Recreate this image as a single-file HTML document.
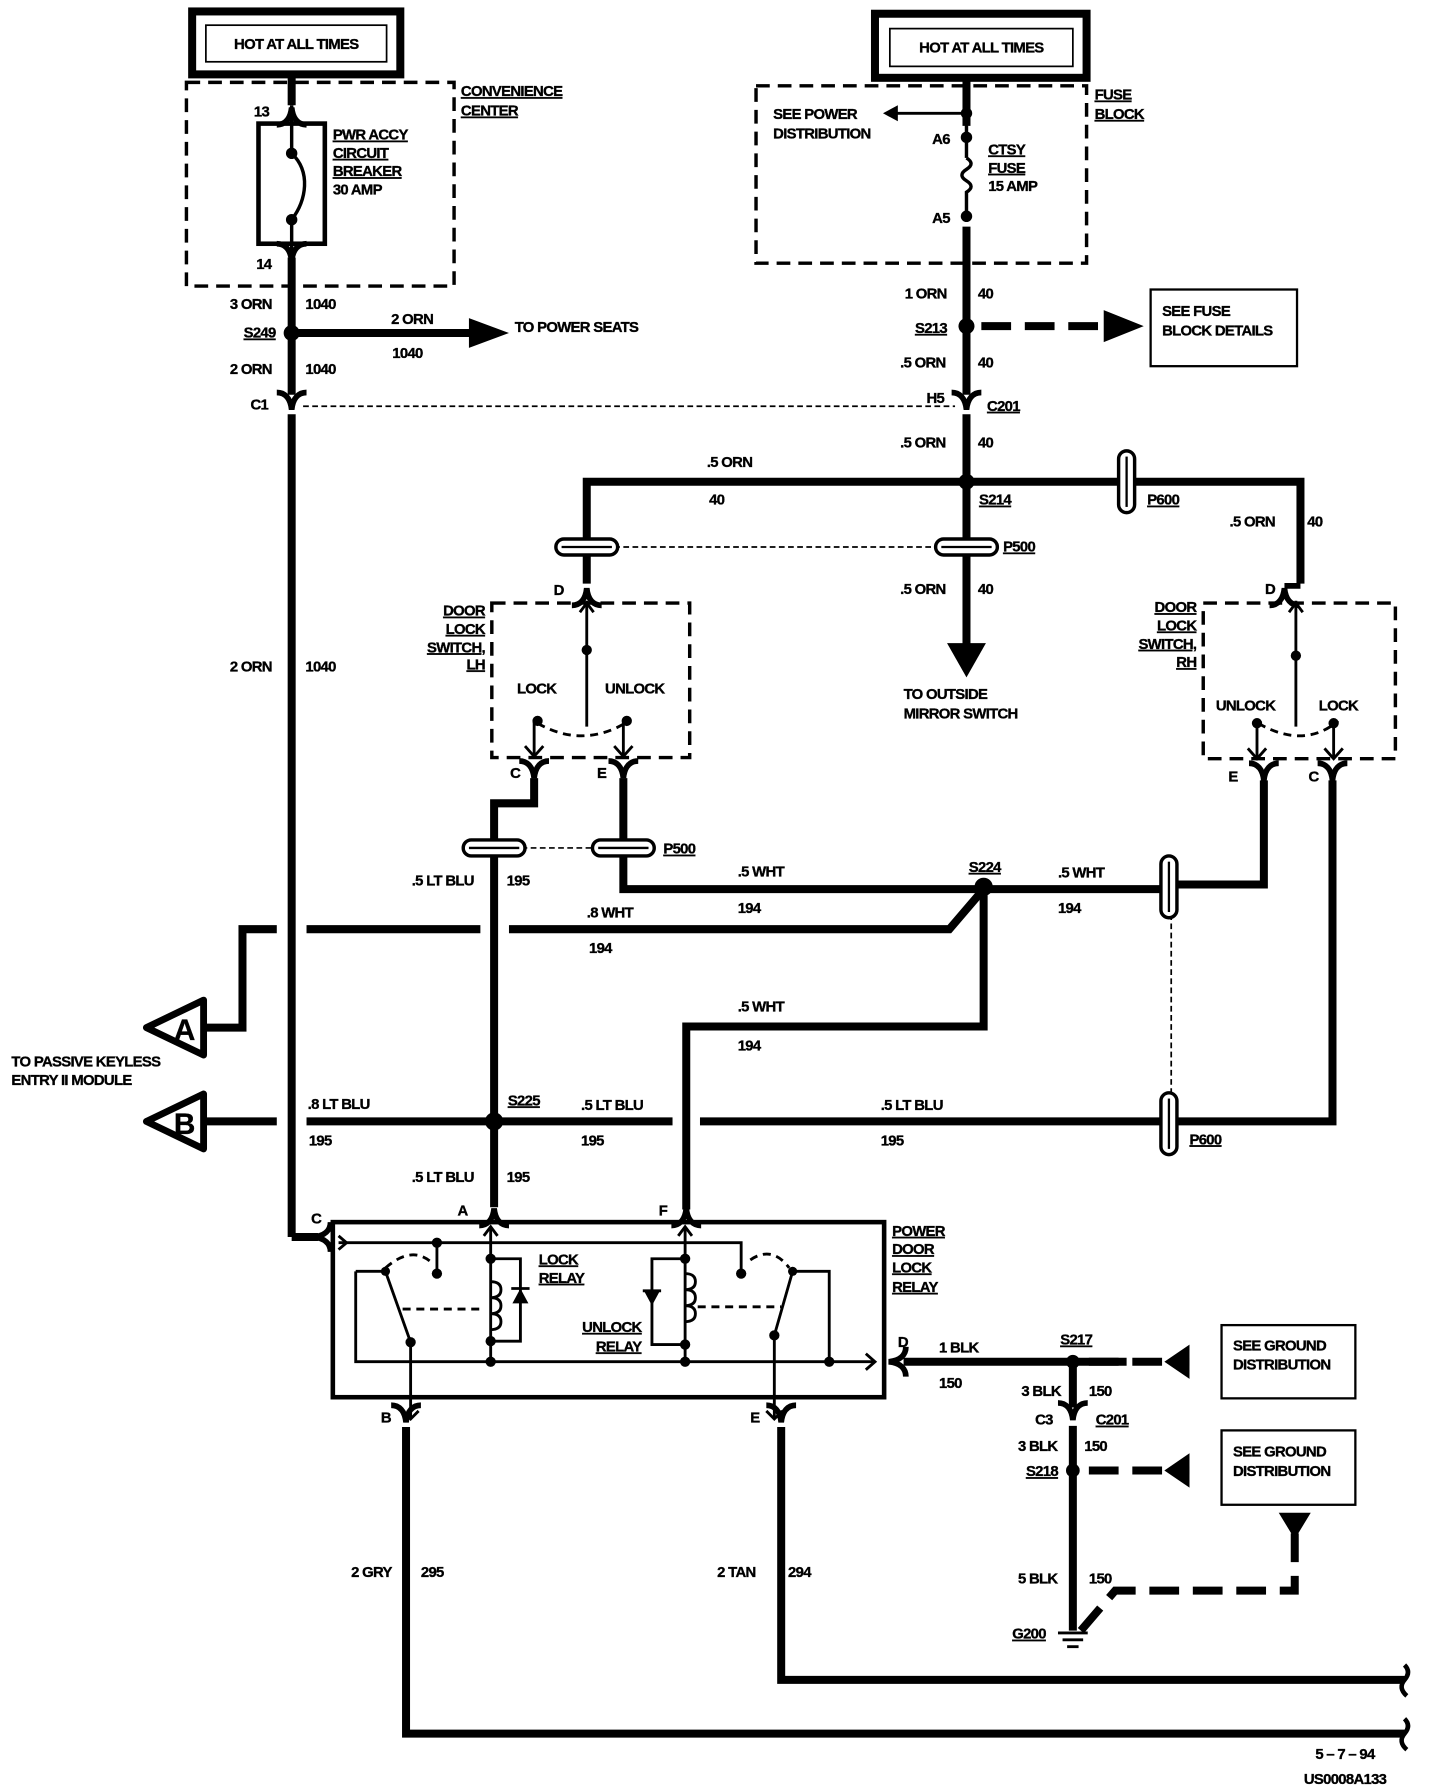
<!DOCTYPE html>
<html><head><meta charset="utf-8"><style>
html,body{margin:0;padding:0;background:#fff;}
svg{display:block}
text{font-family:"Liberation Sans",sans-serif;font-weight:bold;font-size:13px;fill:#000;letter-spacing:-0.6px;stroke:#000;stroke-width:0.3px}
.u{text-decoration:underline}
</style></head><body>
<svg width="1440" height="1792" viewBox="0 0 1259 1566" preserveAspectRatio="none" xmlns="http://www.w3.org/2000/svg">
<defs>
<path id="fk" d="M-13,-9 C-6,-9 -1,-4 0,6 C1,-4 6,-9 13,-9" fill="none" stroke="#000" stroke-width="5"/>
<g id="gv"><rect x="-27" y="-7" width="54" height="14" rx="7" fill="#fff" stroke="#000" stroke-width="3"/><line x1="-22" y1="0" x2="22" y2="0" stroke="#000" stroke-width="2"/></g>
<g id="gh"><rect x="-7" y="-27" width="14" height="54" rx="7" fill="#fff" stroke="#000" stroke-width="3"/><line x1="0" y1="-22" x2="0" y2="22" stroke="#000" stroke-width="2"/></g>
</defs>
<rect width="1259" height="1566" fill="#fff"/>

<rect x="168" y="10" width="182" height="55" fill="none" stroke="#000" stroke-width="7"/>
<rect x="180" y="22" width="158" height="32" fill="#fff" stroke="#000" stroke-width="1.5"/>
<text x="259" y="43" text-anchor="middle">HOT AT ALL TIMES</text>
<rect x="765" y="12" width="185" height="56" fill="none" stroke="#000" stroke-width="7"/>
<rect x="778" y="25" width="160" height="33" fill="#fff" stroke="#000" stroke-width="1.5"/>
<text x="858" y="46" text-anchor="middle">HOT AT ALL TIMES</text>

<g fill="none" stroke="#000" stroke-width="3" stroke-dasharray="12,7">
<rect x="163" y="72" width="234" height="178"/>
<rect x="661" y="75" width="289" height="155"/>
<rect x="430" y="527" width="173" height="135"/>
<rect x="1052" y="527" width="168" height="136"/>
</g>

<g stroke="#000" stroke-width="7" fill="none">
<line x1="255" y1="68" x2="255" y2="92"/>
<line x1="255" y1="225" x2="255" y2="345"/>
<line x1="255" y1="362" x2="255" y2="1081"/>
<line x1="255" y1="1081" x2="278" y2="1081"/>
<line x1="258" y1="291" x2="415" y2="291"/>
<line x1="845" y1="68" x2="845" y2="110"/>
<line x1="845" y1="198" x2="845" y2="345"/>
<line x1="845" y1="362" x2="845" y2="470"/>
<line x1="845" y1="486" x2="845" y2="565"/>
<polyline points="513,510 513,421 1137,421 1137,510"/>
<polyline points="467,680 467,702 432,702 432,733"/>
<line x1="432" y1="748" x2="432" y2="1055"/>
<polyline points="545,680 545,733"/>
<polyline points="545,748 545,777 860,777"/>
<polyline points="860,777 1015,777"/>
<polyline points="1030,773 1105,773 1105,682"/>
<polyline points="860,777 860,897 600,897 600,1057"/>
<polyline points="860,777 830,812 445,812"/>
<line x1="420" y1="812" x2="268" y2="812"/>
<polyline points="242,812 212,812 212,898 175,898"/>
<line x1="175" y1="980" x2="242" y2="980"/>
<line x1="268" y1="980" x2="588" y2="980"/>
<line x1="612" y1="980" x2="1015" y2="980"/>
<polyline points="1030,980 1165,980 1165,682"/>
<polyline points="355,1247 355,1515 1228,1515"/>
<polyline points="683,1247 683,1468 1228,1468"/>
<line x1="790" y1="1190" x2="985" y2="1190"/>
<line x1="938" y1="1190" x2="938" y2="1230"/>
<line x1="938" y1="1246" x2="938" y2="1425"/>
</g>
<polygon points="410,278 445,291 410,304" fill="#000"/>
<polygon points="828,562 862,562 845,592" fill="#000"/>
<polygon points="965,271 1000,285 965,299" fill="#000"/>
<polygon points="785,92 785,106 772,99" fill="#000"/>
<line x1="845" y1="99" x2="782" y2="99" stroke="#000" stroke-width="2.5"/>
<g stroke="#000" stroke-width="7" stroke-dasharray="26,12" fill="none">
<line x1="858" y1="285" x2="965" y2="285"/>
<line x1="952" y1="1190" x2="1040" y2="1190"/>
<line x1="952" y1="1285" x2="1040" y2="1285"/>
<polyline points="945,1425 975,1390 1132,1390 1132,1340"/>
</g>
<polygon points="1040,1175 1040,1205 1018,1190" fill="#000"/>
<polygon points="1040,1270 1040,1300 1018,1285" fill="#000"/>
<polygon points="1118,1322 1146,1322 1132,1345" fill="#000"/>
<g stroke="#000" stroke-width="2.5"><line x1="925" y1="1427" x2="951" y2="1427"/><line x1="929" y1="1433" x2="947" y2="1433"/><line x1="933" y1="1439" x2="943" y2="1439"/></g>

<rect x="226" y="108" width="58" height="105" fill="none" stroke="#000" stroke-width="4"/>
<g stroke="#000" stroke-width="3" fill="none"><line x1="255" y1="92" x2="255" y2="132"/><line x1="255" y1="192" x2="255" y2="225"/><path d="M255,134 C272,150 268,175 255,192"/></g>
<circle cx="255" cy="134" r="5"/><circle cx="255" cy="192" r="5"/>
<use href="#fk" x="255" y="100" transform="rotate(180 255 100)"/>
<use href="#fk" x="255" y="222"/>
<use href="#fk" x="255" y="352"/>
<g stroke="#000" stroke-width="3" fill="none"><line x1="845" y1="92" x2="845" y2="138"/><path d="M845,138 q8,5 0,10 q-8,5 0,10 q8,5 0,10 l0,22"/></g>
<circle cx="845" cy="99" r="5"/><circle cx="845" cy="120" r="5"/><circle cx="845" cy="189" r="5"/>
<use href="#fk" x="845" y="352"/>
<line x1="265" y1="355" x2="835" y2="355" stroke="#000" stroke-width="1.5" stroke-dasharray="5,3"/>
<circle cx="255" cy="291" r="7"/><circle cx="845" cy="285" r="7"/><circle cx="845" cy="421" r="7"/>
<circle cx="860" cy="775" r="8"/><circle cx="432" cy="980" r="8"/><circle cx="938" cy="1190" r="6"/><circle cx="938" cy="1285" r="6"/>

<line x1="513" y1="478" x2="845" y2="478" stroke="#000" stroke-width="1.5" stroke-dasharray="5,3"/>
<use href="#gv" x="513" y="478"/><use href="#gv" x="845" y="478"/>
<use href="#gh" x="985" y="421"/>
<line x1="432" y1="741" x2="545" y2="741" stroke="#000" stroke-width="1.5" stroke-dasharray="5,3"/>
<use href="#gv" x="432" y="741"/><use href="#gv" x="545" y="741"/>
<line x1="1024" y1="775" x2="1024" y2="980" stroke="#000" stroke-width="1.5" stroke-dasharray="5,3"/>
<use href="#gh" x="1022" y="775"/><use href="#gh" x="1022" y="982"/>
<use href="#fk" x="513" y="520" transform="rotate(180 513 520)"/>
<use href="#fk" x="1123" y="520" transform="rotate(180 1123 520)"/>
<polyline points="1137,512 1123,512" stroke="#000" stroke-width="5"/>

<g stroke="#000" stroke-width="2.5" fill="none">
<line x1="513" y1="525" x2="513" y2="635"/><polyline points="507,535 513,527 519,535"/>
<path d="M470,632 Q510,655 550,630" stroke-dasharray="7,5"/>
<line x1="467" y1="630" x2="467" y2="660"/><line x1="545" y1="630" x2="545" y2="660"/>
<polyline points="459,652 467,661 475,652"/><polyline points="537,652 545,661 553,652"/>
<line x1="1133" y1="525" x2="1133" y2="635"/><polyline points="1127,535 1133,527 1139,535"/>
<path d="M1100,632 Q1140,655 1170,630" stroke-dasharray="7,5"/>
<line x1="1099" y1="632" x2="1099" y2="662"/><line x1="1166" y1="632" x2="1166" y2="662"/>
<polyline points="1091,654 1099,663 1107,654"/><polyline points="1158,654 1166,663 1174,654"/>
</g>
<circle cx="513" cy="568" r="4.5"/><circle cx="470" cy="630" r="4.5"/><circle cx="548" cy="630" r="4.5"/>
<circle cx="1133" cy="573" r="4.5"/><circle cx="1099" cy="632" r="4.5"/><circle cx="1166" cy="632" r="4.5"/>
<use href="#fk" x="467" y="674"/><use href="#fk" x="545" y="674"/>
<use href="#fk" x="1105" y="676"/><use href="#fk" x="1165" y="676"/>

<polygon points="128,898 178,874 178,922" fill="#fff" stroke="#000" stroke-width="6" stroke-linejoin="round"/>
<text x="152" y="909" style="font-size:26px">A</text>
<polygon points="128,980 178,956 178,1004" fill="#fff" stroke="#000" stroke-width="6" stroke-linejoin="round"/>
<text x="152" y="991" style="font-size:26px">B</text>

<rect x="291" y="1068" width="482" height="153" fill="none" stroke="#000" stroke-width="4"/>
<use href="#fk" x="432" y="1062" transform="rotate(180 432 1062)"/>
<use href="#fk" x="600" y="1062" transform="rotate(180 600 1062)"/>
<use href="#fk" x="280" y="1081" transform="rotate(90 280 1081)"/>
<use href="#fk" x="355" y="1237"/><use href="#fk" x="683" y="1237"/>
<use href="#fk" x="783" y="1190" transform="rotate(90 783 1190)"/>
<use href="#fk" x="938" y="1235"/>
<g stroke="#000" stroke-width="2.5" fill="none">
<polyline points="296,1086 648,1086 648,1111"/>
<polyline points="296,1080 303,1086 296,1092"/>
<line x1="382" y1="1086" x2="382" y2="1113"/>
<line x1="429" y1="1072" x2="429" y2="1190"/><polyline points="423,1080 429,1072 435,1080"/>
<line x1="599" y1="1072" x2="599" y2="1190"/><polyline points="593,1080 599,1072 605,1080"/>
<polyline points="311,1111 337,1111"/><polyline points="311,1111 311,1190 765,1190"/><polyline points="757,1183 765,1190 757,1197"/>
<line x1="337" y1="1111" x2="359" y2="1173"/><line x1="359" y1="1173" x2="359" y2="1240"/>
<polyline points="352,1233 359,1240 366,1233"/>
<path d="M337,1108 Q360,1088 377,1103" stroke-dasharray="7,5"/>
<line x1="352" y1="1144" x2="420" y2="1144" stroke-dasharray="7,5"/>
<polyline points="429,1100 455,1100 455,1172 429,1172"/>
<path d="M429,1120 q9,0 9,7 q0,7 -9,7 q9,0 9,7 q0,7 -9,7 q9,0 9,7 q0,7 -9,7"/>
<polyline points="599,1100 570,1100 570,1175 599,1175"/>
<path d="M599,1113 q9,0 9,7 q0,7 -9,7 q9,0 9,7 q0,7 -9,7 q9,0 9,7 q0,7 -9,7"/>
<line x1="610" y1="1142" x2="683" y2="1142" stroke-dasharray="7,5"/>
<path d="M656,1101 Q675,1088 690,1108" stroke-dasharray="7,5"/>
<polyline points="693,1111 725,1111 725,1190"/>
<line x1="693" y1="1111" x2="677" y2="1167"/><line x1="677" y1="1167" x2="677" y2="1240"/>
<polyline points="670,1233 677,1240 684,1233"/>
</g>
<polygon points="448,1139 462,1139 455,1126" fill="#000"/><line x1="447" y1="1126" x2="463" y2="1126" stroke="#000" stroke-width="2.5"/>
<polygon points="563,1128 577,1128 570,1141" fill="#000"/><line x1="562" y1="1128" x2="578" y2="1128" stroke="#000" stroke-width="2.5"/>
<g><circle cx="382" cy="1086" r="4.5"/><circle cx="382" cy="1113" r="4.5"/><circle cx="429" cy="1100" r="4.5"/><circle cx="429" cy="1172" r="4.5"/><circle cx="429" cy="1190" r="4.5"/>
<circle cx="599" cy="1100" r="4.5"/><circle cx="599" cy="1175" r="4.5"/><circle cx="599" cy="1190" r="4.5"/><circle cx="648" cy="1113" r="4.5"/><circle cx="725" cy="1190" r="4.5"/>
<circle cx="337" cy="1111" r="4"/><circle cx="359" cy="1173" r="4.5"/><circle cx="693" cy="1111" r="4"/><circle cx="677" cy="1167" r="4.5"/></g>

<path d="M1228,1455 q6,6 0,13 q-6,7 2,14 M1228,1502 q6,6 0,13 q-6,7 2,14" stroke="#000" stroke-width="4" fill="none"/>

<rect x="1006" y="253" width="128" height="67" fill="none" stroke="#000" stroke-width="2"/>
<rect x="1068" y="1158" width="117" height="64" fill="none" stroke="#000" stroke-width="2"/>
<rect x="1068" y="1250" width="117" height="65" fill="none" stroke="#000" stroke-width="2"/>

<text x="403" y="84" class="u">CONVENIENCE</text><text x="403" y="101" class="u">CENTER</text>
<text x="222" y="102">13</text><text x="224" y="235">14</text>
<text x="291" y="122" class="u">PWR ACCY</text><text x="291" y="138" class="u">CIRCUIT</text><text x="291" y="154" class="u">BREAKER</text><text x="291" y="170">30 AMP</text>
<text x="201" y="270">3 ORN</text><text x="267" y="270">1040</text>
<text x="213" y="295" class="u">S249</text><text x="342" y="283">2 ORN</text><text x="343" y="313">1040</text><text x="450" y="290">TO POWER SEATS</text>
<text x="201" y="327">2 ORN</text><text x="267" y="327">1040</text><text x="219" y="358">C1</text>
<text x="201" y="587">2 ORN</text><text x="267" y="587">1040</text>
<text x="957" y="87" class="u">FUSE</text><text x="957" y="104" class="u">BLOCK</text>
<text x="676" y="104">SEE  POWER</text><text x="676" y="121">DISTRIBUTION</text>
<text x="815" y="126">A6</text><text x="864" y="135" class="u">CTSY</text><text x="864" y="151" class="u">FUSE</text><text x="864" y="167">15 AMP</text><text x="815" y="195">A5</text>
<text x="791" y="261">1 ORN</text><text x="855" y="261">40</text><text x="800" y="291" class="u">S213</text>
<text x="1016" y="276">SEE FUSE</text><text x="1016" y="293">BLOCK DETAILS</text>
<text x="787" y="321">.5 ORN</text><text x="855" y="321">40</text>
<text x="810" y="352">H5</text><text x="863" y="359" class="u">C201</text>
<text x="787" y="391">.5 ORN</text><text x="855" y="391">40</text>
<text x="618" y="408">.5 ORN</text><text x="620" y="441">40</text><text x="856" y="441" class="u">S214</text><text x="1003" y="441" class="u">P600</text>
<text x="1075" y="460">.5 ORN</text><text x="1143" y="460">40</text><text x="877" y="482" class="u">P500</text>
<text x="484" y="520">D</text><text x="1106" y="519">D</text>
<text x="787" y="519">.5 ORN</text><text x="855" y="519">40</text>
<text x="790" y="611">TO OUTSIDE</text><text x="790" y="628">MIRROR SWITCH</text>
<text x="424" y="538" text-anchor="end" class="u">DOOR</text><text x="424" y="554" text-anchor="end" class="u">LOCK</text><text x="424" y="570" text-anchor="end" class="u">SWITCH,</text><text x="424" y="585" text-anchor="end" class="u">LH</text>
<text x="1046" y="535" text-anchor="end" class="u">DOOR</text><text x="1046" y="551" text-anchor="end" class="u">LOCK</text><text x="1046" y="567" text-anchor="end" class="u">SWITCH,</text><text x="1046" y="583" text-anchor="end" class="u">RH</text>
<text x="452" y="606">LOCK</text><text x="529" y="606">UNLOCK</text>
<text x="1063" y="621">UNLOCK</text><text x="1153" y="621">LOCK</text>
<text x="446" y="680">C</text><text x="522" y="680">E</text><text x="1074" y="683">E</text><text x="1144" y="683">C</text>
<text x="580" y="746" class="u">P500</text>
<text x="360" y="774">.5 LT BLU</text><text x="443" y="774">195</text>
<text x="645" y="766">.5 WHT</text><text x="645" y="798">194</text>
<text x="847" y="762" class="u">S224</text>
<text x="925" y="767">.5 WHT</text><text x="925" y="798">194</text>
<text x="513" y="802">.8 WHT</text><text x="515" y="833">194</text>
<text x="645" y="884">.5 WHT</text><text x="645" y="918">194</text>
<text x="10" y="932">TO PASSIVE KEYLESS</text><text x="10" y="948">ENTRY II MODULE</text>
<text x="269" y="969">.8 LT BLU</text><text x="270" y="1001">195</text>
<text x="444" y="966" class="u">S225</text>
<text x="508" y="970">.5 LT BLU</text><text x="508" y="1001">195</text>
<text x="770" y="970">.5 LT BLU</text><text x="770" y="1001">195</text>
<text x="1040" y="1000" class="u">P600</text>
<text x="360" y="1033">.5 LT BLU</text><text x="443" y="1033">195</text>
<text x="400" y="1062">A</text><text x="576" y="1062">F</text><text x="272" y="1069">C</text>
<text x="780" y="1080" class="u">POWER</text><text x="780" y="1096" class="u">DOOR</text><text x="780" y="1112" class="u">LOCK</text><text x="780" y="1129" class="u">RELAY</text>
<text x="471" y="1105" class="u">LOCK</text><text x="471" y="1121" class="u">RELAY</text>
<text x="509" y="1164" class="u">UNLOCK</text><text x="521" y="1181" class="u">RELAY</text>
<text x="785" y="1177">D</text><text x="821" y="1182">1 BLK</text><text x="821" y="1213">150</text>
<text x="927" y="1175" class="u">S217</text>
<text x="1078" y="1180">SEE GROUND</text><text x="1078" y="1197">DISTRIBUTION</text>
<text x="893" y="1220">3 BLK</text><text x="952" y="1220">150</text>
<text x="905" y="1245">C3</text><text x="958" y="1245" class="u">C201</text>
<text x="890" y="1268">3 BLK</text><text x="948" y="1268">150</text>
<text x="897" y="1290" class="u">S218</text>
<text x="1078" y="1273">SEE GROUND</text><text x="1078" y="1290">DISTRIBUTION</text>
<text x="890" y="1384">5 BLK</text><text x="952" y="1384">150</text>
<text x="885" y="1432" class="u">G200</text>
<text x="333" y="1243">B</text><text x="656" y="1243">E</text>
<text x="307" y="1378">2 GRY</text><text x="368" y="1378">295</text>
<text x="627" y="1378">2 TAN</text><text x="689" y="1378">294</text>
<text x="1150" y="1537">5 – 7 – 94</text><text x="1140" y="1559">US0008A133</text>
</svg>
</body></html>
